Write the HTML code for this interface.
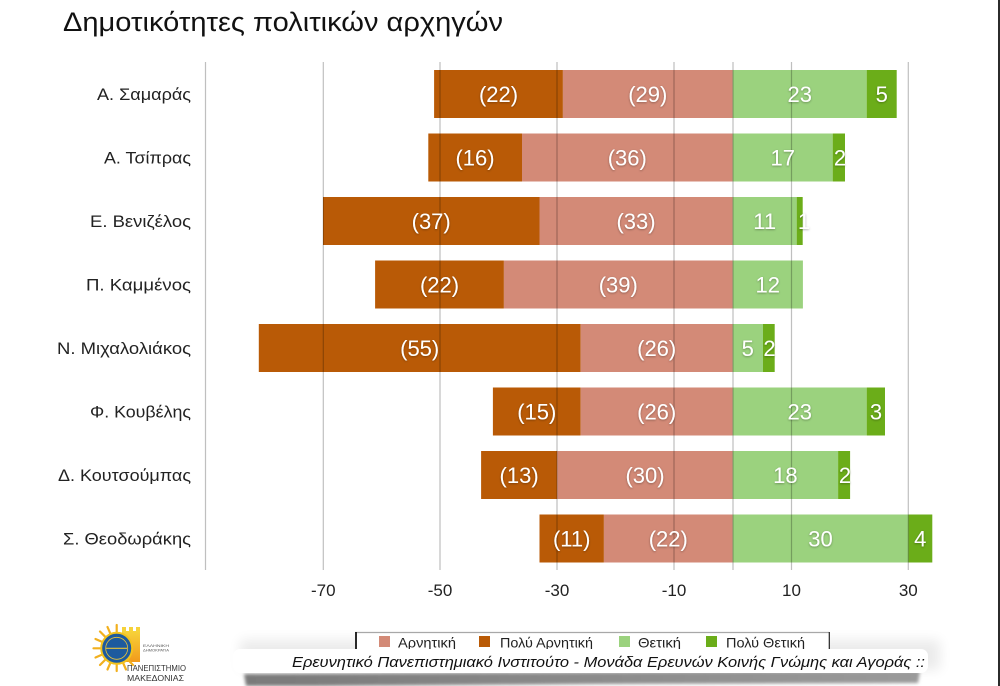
<!DOCTYPE html>
<html><head><meta charset="utf-8">
<style>
html,body{margin:0;padding:0;background:#fff;}
svg{display:block;}
text{font-family:"Liberation Sans","DejaVu Sans",sans-serif;}
</style></head>
<body>
<svg width="1000" height="686" viewBox="0 0 1000 686" xmlns="http://www.w3.org/2000/svg">
<defs>
<filter id="ts" x="-30%" y="-30%" width="160%" height="160%">
<feDropShadow dx="0" dy="0.8" stdDeviation="1" flood-color="#000" flood-opacity="0.35"/>
</filter>
<filter id="blur6" x="-20%" y="-200%" width="140%" height="500%"><feGaussianBlur stdDeviation="6"/></filter>
<filter id="blur2" x="-10%" y="-100%" width="120%" height="300%"><feGaussianBlur stdDeviation="1.5"/></filter>
<linearGradient id="shg" x1="0" x2="1" y1="0" y2="0">
<stop offset="0" stop-color="#7a7a7a"/><stop offset="0.6" stop-color="#8e8e8e"/><stop offset="1" stop-color="#9a9a9a"/>
</linearGradient>
<linearGradient id="tower" x1="0" x2="0" y1="0" y2="1">
<stop offset="0" stop-color="#f6d23a"/><stop offset="1" stop-color="#f29a1c"/>
</linearGradient>
</defs>

<rect width="1000" height="686" fill="#fff"/>
<rect x="998" y="0" width="2" height="686" fill="#2b2b2b"/>

<text x="63" y="31" font-size="27" fill="#111" textLength="440" lengthAdjust="spacingAndGlyphs">Δημοτικότητες πολιτικών αρχηγών</text>

<g>
<rect x="434.1" y="70" width="128.8" height="48" fill="#B95A06"/>
<rect x="562.9" y="70" width="169.8" height="48" fill="#D38A77"/>
<rect x="732.7" y="70" width="134" height="48" fill="#9BD27E"/>
<rect x="866.7" y="70" width="30" height="48" fill="#6BAD19"/>
<rect x="428.3" y="133.5" width="93.7" height="48" fill="#B95A06"/>
<rect x="522" y="133.5" width="210.7" height="48" fill="#D38A77"/>
<rect x="732.7" y="133.5" width="100" height="48" fill="#9BD27E"/>
<rect x="832.7" y="133.5" width="12.3" height="48" fill="#6BAD19"/>
<rect x="323" y="197" width="216.5" height="48" fill="#B95A06"/>
<rect x="539.5" y="197" width="193.2" height="48" fill="#D38A77"/>
<rect x="732.7" y="197" width="64" height="48" fill="#9BD27E"/>
<rect x="796.7" y="197" width="6" height="48" fill="#6BAD19"/>
<rect x="375.1" y="260.5" width="128.8" height="48" fill="#B95A06"/>
<rect x="503.9" y="260.5" width="228.8" height="48" fill="#D38A77"/>
<rect x="732.7" y="260.5" width="70.2" height="48" fill="#9BD27E"/>
<rect x="258.8" y="324" width="321.9" height="48" fill="#B95A06"/>
<rect x="580.7" y="324" width="152" height="48" fill="#D38A77"/>
<rect x="732.7" y="324" width="30.3" height="48" fill="#9BD27E"/>
<rect x="763" y="324" width="11.7" height="48" fill="#6BAD19"/>
<rect x="492.9" y="387.5" width="87.8" height="48" fill="#B95A06"/>
<rect x="580.7" y="387.5" width="152" height="48" fill="#D38A77"/>
<rect x="732.7" y="387.5" width="134" height="48" fill="#9BD27E"/>
<rect x="866.7" y="387.5" width="18.3" height="48" fill="#6BAD19"/>
<rect x="481.1" y="451" width="76.1" height="48" fill="#B95A06"/>
<rect x="557.2" y="451" width="175.5" height="48" fill="#D38A77"/>
<rect x="732.7" y="451" width="105.4" height="48" fill="#9BD27E"/>
<rect x="838.1" y="451" width="12" height="48" fill="#6BAD19"/>
<rect x="539.5" y="514.5" width="64.4" height="48" fill="#B95A06"/>
<rect x="603.9" y="514.5" width="128.8" height="48" fill="#D38A77"/>
<rect x="732.7" y="514.5" width="175.6" height="48" fill="#9BD27E"/>
<rect x="908.3" y="514.5" width="24" height="48" fill="#6BAD19"/>
</g>

<g stroke="#000" stroke-opacity="0.25" stroke-width="1.2">
<line x1="205.5" y1="62" x2="205.5" y2="570"/>
<line x1="323.3" y1="62" x2="323.3" y2="570"/>
<line x1="440" y1="62" x2="440" y2="570"/>
<line x1="557" y1="62" x2="557" y2="570"/>
<line x1="674" y1="62" x2="674" y2="570"/>
<line x1="733" y1="62" x2="733" y2="570"/>
<line x1="791.5" y1="62" x2="791.5" y2="570"/>
<line x1="908.3" y1="62" x2="908.3" y2="570"/>
</g>

<g font-size="17" fill="#222" text-anchor="end">
<text x="191" y="100" textLength="94" lengthAdjust="spacingAndGlyphs">Α. Σαμαράς</text>
<text x="191" y="163.5" textLength="87" lengthAdjust="spacingAndGlyphs">Α. Τσίπρας</text>
<text x="191" y="227" textLength="101" lengthAdjust="spacingAndGlyphs">Ε. Βενιζέλος</text>
<text x="191" y="290.5" textLength="105" lengthAdjust="spacingAndGlyphs">Π. Καμμένος</text>
<text x="191" y="354" textLength="134" lengthAdjust="spacingAndGlyphs">Ν. Μιχαλολιάκος</text>
<text x="191" y="417.5" textLength="101" lengthAdjust="spacingAndGlyphs">Φ. Κουβέλης</text>
<text x="191" y="481" textLength="133" lengthAdjust="spacingAndGlyphs">Δ. Κουτσούμπας</text>
<text x="191" y="544.5" textLength="128" lengthAdjust="spacingAndGlyphs">Σ. Θεοδωράκης</text>
</g>

<g font-size="22" fill="#fff" text-anchor="middle" filter="url(#ts)">
<text x="498.5" y="102">(22)</text>
<text x="647.8" y="102">(29)</text>
<text x="799.7" y="102">23</text>
<text x="881.7" y="102">5</text>
<text x="475" y="165.5">(16)</text>
<text x="627.3" y="165.5">(36)</text>
<text x="782.7" y="165.5">17</text>
<text x="840" y="165.5">2</text>
<text x="431.2" y="229">(37)</text>
<text x="636" y="229">(33)</text>
<text x="764.7" y="229">11</text>
<text x="804" y="229">1</text>
<text x="439.5" y="292.5">(22)</text>
<text x="618.3" y="292.5">(39)</text>
<text x="767.8" y="292.5">12</text>
<text x="419.7" y="356">(55)</text>
<text x="656.7" y="356">(26)</text>
<text x="747.8" y="356">5</text>
<text x="769.5" y="356">2</text>
<text x="536.8" y="419.5">(15)</text>
<text x="656.7" y="419.5">(26)</text>
<text x="799.7" y="419.5">23</text>
<text x="876" y="419.5">3</text>
<text x="519.1" y="483">(13)</text>
<text x="645" y="483">(30)</text>
<text x="785.4" y="483">18</text>
<text x="845" y="483">2</text>
<text x="571.7" y="546.5">(11)</text>
<text x="668.3" y="546.5">(22)</text>
<text x="820.5" y="546.5">30</text>
<text x="920.3" y="546.5">4</text>
</g>

<g font-size="17" fill="#222" text-anchor="middle">
<text x="323.3" y="596">-70</text>
<text x="440" y="596">-50</text>
<text x="557" y="596">-30</text>
<text x="674" y="596">-10</text>
<text x="791.5" y="596">10</text>
<text x="908.3" y="596">30</text>
</g>

<rect x="240" y="640" width="700" height="30" fill="#000" opacity="0.08" filter="url(#blur6)"/>

<rect x="355" y="632" width="474" height="20" fill="#fff"/>
<line x1="355" y1="632.5" x2="829" y2="632.5" stroke="#a8a8a8" stroke-width="1.2"/>
<line x1="356" y1="632" x2="356" y2="651" stroke="#111" stroke-width="1.8"/>
<line x1="829.3" y1="632" x2="829.3" y2="649" stroke="#222" stroke-width="1.2"/>
<rect x="379" y="636" width="11" height="11" fill="#D38A77"/>
<rect x="479" y="636" width="11" height="11" fill="#B95A06"/>
<rect x="619" y="636" width="11" height="11" fill="#9BD27E"/>
<rect x="706" y="636" width="11" height="11" fill="#6BAD19"/>
<g font-size="14" fill="#222">
<text x="398" y="647.5" textLength="58" lengthAdjust="spacingAndGlyphs">Αρνητική</text>
<text x="500" y="647.5" textLength="93" lengthAdjust="spacingAndGlyphs">Πολύ Αρνητική</text>
<text x="638" y="647.5" textLength="43" lengthAdjust="spacingAndGlyphs">Θετική</text>
<text x="726" y="647.5" textLength="79" lengthAdjust="spacingAndGlyphs">Πολύ Θετική</text>
</g>

<path d="M244,674 L920,671 L918,683 L600,684 L320,686 L246,686 Z" fill="url(#shg)" filter="url(#blur2)"/>
<rect x="233" y="649" width="695" height="24" rx="7" fill="#fff"/>
<text x="292" y="667" font-size="15" font-style="italic" fill="#111" textLength="633" lengthAdjust="spacingAndGlyphs">Ερευνητικό Πανεπιστημιακό Ινστιτούτο - Μονάδα Ερευνών Κοινής Γνώμης και Αγοράς ::</text>

<g>
<rect x="122" y="631" width="18" height="31" fill="url(#tower)"/>
<rect x="122" y="627" width="4" height="5" fill="#f6d23a"/>
<rect x="129" y="627" width="4" height="5" fill="#f6d23a"/>
<rect x="136" y="627" width="4" height="5" fill="#f6d23a"/>
<g stroke="#f2b01e" stroke-width="2.2" stroke-linecap="round">
<line x1="116.7" y1="648.3" x2="116.7" y2="625"/>
<line x1="116.7" y1="648.3" x2="116.7" y2="671"/>
<line x1="116.7" y1="648.3" x2="93.5" y2="648.3"/>
<line x1="116.7" y1="648.3" x2="100" y2="631.5"/>
<line x1="116.7" y1="648.3" x2="100" y2="665"/>
<line x1="116.7" y1="648.3" x2="133" y2="665"/>
<line x1="116.7" y1="648.3" x2="107.5" y2="627"/>
<line x1="116.7" y1="648.3" x2="95.5" y2="639"/>
<line x1="116.7" y1="648.3" x2="95.5" y2="657.5"/>
<line x1="116.7" y1="648.3" x2="107.5" y2="669.5"/>
<line x1="116.7" y1="648.3" x2="126" y2="669.5"/>
</g>
<circle cx="116.7" cy="648.3" r="15.5" fill="#1d5a9e" stroke="#f2c21e" stroke-width="2"/>
<circle cx="116.7" cy="648.3" r="11" fill="none" stroke="#e8c43a" stroke-width="0.8"/>
<line x1="106" y1="648.3" x2="127" y2="648.3" stroke="#e8c43a" stroke-width="1.2"/>
<text x="143" y="647" font-size="3.6" fill="#555" textLength="26" lengthAdjust="spacingAndGlyphs">ΕΛΛΗΝΙΚΗ</text>
<text x="143" y="651.5" font-size="3.6" fill="#555" textLength="26" lengthAdjust="spacingAndGlyphs">ΔΗΜΟΚΡΑΤΙΑ</text>
<text x="127" y="671" font-size="8" fill="#333" textLength="59" lengthAdjust="spacingAndGlyphs">ΠΑΝΕΠΙΣΤΗΜΙΟ</text>
<text x="127" y="681" font-size="8" fill="#333" textLength="57" lengthAdjust="spacingAndGlyphs">ΜΑΚΕΔΟΝΙΑΣ</text>
</g>
</svg>
</body></html>
